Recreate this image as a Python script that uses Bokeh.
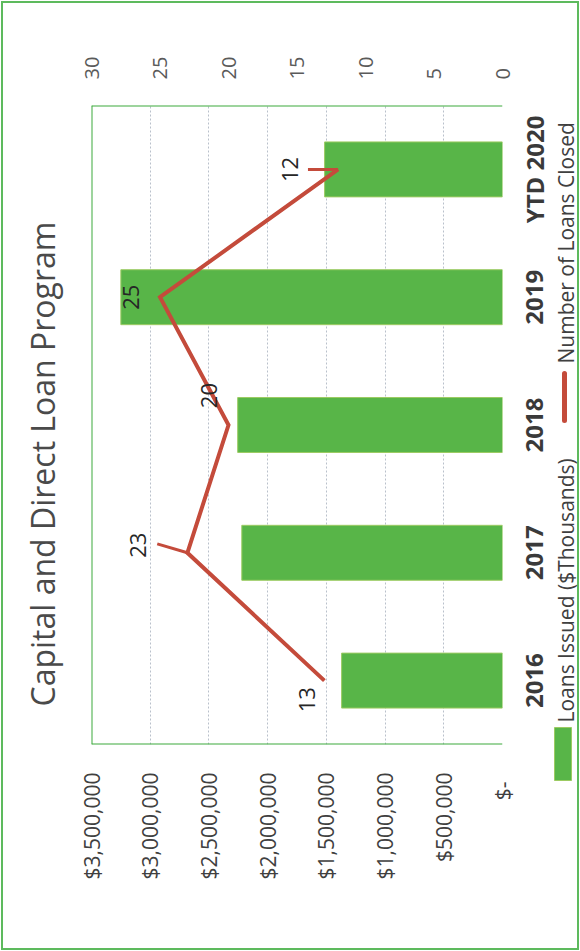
import math
from bokeh.plotting import figure
from bokeh.layouts import row, column
from bokeh.models import Range1d, FactorRange, LinearAxis, FixedTicker, Span
from bokeh.core.properties import value
from bokeh.embed import file_html
from bokeh.resources import INLINE

# ---------------- data ----------------
categories = ["2016", "2017", "2018", "2019", "YTD 2020"]
loans_issued = [1370000, 2220000, 2255000, 3250000, 1515000]   # $ (bars)
loans_closed = [13, 23, 20, 25, 12]                             # count (line)
dollar_ticks = [0, 500000, 1000000, 1500000, 2000000, 2500000, 3000000, 3500000]
dollar_labels = ["$-", "$500,000", "$1,000,000", "$1,500,000", "$2,000,000",
                 "$2,500,000", "$3,000,000", "$3,500,000"]
count_ticks = [0, 5, 10, 15, 20, 25, 30]
title_text = "Capital and Direct Loan Program"
series_names = ["Loans Issued ($Thousands)", "Number of Loans Closed"]

# ---------------- label placement (style) ----------------
label_dx = [1.3, 3.6, 1.4, 2.1, 3.5]
label_dy = [-0.15, 0.06, 0.23, 0.0, 0.0]
leader_idx = [1, 4]
leader_dx = [2.2, 2.2]
leader_dy = [0.07, 0.0]

FONT = "Open Sans"
GREEN_BAR = "#58B548"
GREEN_EDGE = "#9CCB62"
GREEN_BORDER = "#3DAA3D"
RED = "#C44B3B"
GRID = "#B9C0CB"
H = 951
TOP, BOTTOM = 105, 207          # space above / below the plot area


def blank(width, **kw):
    f = figure(width=width, height=H, output_backend="svg", toolbar_location=None,
               x_axis_location=None, y_axis_location=None, **kw)
    f.outline_line_color = None
    f.grid.visible = False
    f.background_fill_color = None
    f.border_fill_color = None
    return f


# ---------------- main chart ----------------
p = figure(width=441, height=H,
           x_range=Range1d(3500000, 0),
           y_range=FactorRange(factors=categories, range_padding=0),
           y_axis_location=None,
           output_backend="svg", toolbar_location=None,
           min_border_left=16, min_border_right=14,
           min_border_top=TOP, min_border_bottom=BOTTOM)
p.extra_x_ranges = {"count": Range1d(30, 0)}
p.outline_line_color = None
p.background_fill_color = None
p.border_fill_color = None

xa = p.xaxis[0]
xa.ticker = FixedTicker(ticks=dollar_ticks)
overrides = {t: l for t, l in zip(dollar_ticks, dollar_labels)}
overrides[0] = dollar_labels[0] + "\u00a0\u2009"
xa.major_label_overrides = overrides
xa.major_label_orientation = math.pi / 2
xa.axis_line_color = None
xa.major_tick_line_color = None
xa.minor_tick_line_color = None
xa.major_tick_in = 0
xa.major_tick_out = 0
xa.major_label_standoff = 28
xa.major_label_text_font = FONT
xa.major_label_text_font_size = "21px"
xa.major_label_text_color = "#404040"

ca = LinearAxis(x_range_name="count", ticker=FixedTicker(ticks=count_ticks))
ca.major_label_orientation = math.pi / 2
ca.axis_line_color = None
ca.major_tick_line_color = None
ca.minor_tick_line_color = None
ca.major_tick_in = 0
ca.major_tick_out = 0
ca.major_label_standoff = 26
ca.major_label_text_font = FONT
ca.major_label_text_font_size = "20px"
ca.major_label_text_color = "#5A5A5A"
p.add_layout(ca, "above")

p.xgrid.ticker = FixedTicker(ticks=dollar_ticks)
p.xgrid.grid_line_color = GRID
p.xgrid.grid_line_dash = "2 2"
p.xgrid.grid_line_width = 1
p.ygrid.visible = False

p.add_layout(Span(location=3500000, dimension="height", line_color=GREEN_BORDER, line_width=2))
p.add_layout(Span(location=len(categories), dimension="width", line_color=GREEN_BORDER, line_width=2))
p.add_layout(Span(location=0, dimension="width", line_color=GREEN_BORDER, line_width=2))

p.hbar(y=categories, left=0, right=loans_issued, height=0.43,
       fill_color=GREEN_BAR, line_color=GREEN_EDGE, line_width=1)

p.line(x=loans_closed, y=categories, x_range_name="count",
       line_color=RED, line_width=4, line_join="miter")

p.segment(x0=[loans_closed[i] for i in leader_idx],
          y0=[categories[i] for i in leader_idx],
          x1=[loans_closed[i] + d for i, d in zip(leader_idx, leader_dx)],
          y1=[(categories[i], dy) for i, dy in zip(leader_idx, leader_dy)],
          x_range_name="count", line_color=RED, line_width=3)

p.text(x=[c + d for c, d in zip(loans_closed, label_dx)],
       y=[(c, d) for c, d in zip(categories, label_dy)],
       text=[str(c) for c in loans_closed], x_range_name="count",
       angle=math.pi / 2, text_align="center", text_baseline="middle",
       text_font=value(FONT), text_font_size="22px", text_color="#262626")

# ---------------- category labels (share the category scale) ----------------
c = blank(35, x_range=Range1d(516, 551), y_range=p.y_range,
          min_border_left=0, min_border_right=0,
          min_border_top=TOP, min_border_bottom=BOTTOM)
c.text(x=[534] * len(categories), y=categories, text=categories,
       angle=math.pi / 2, text_align="center", text_baseline="middle",
       text_font=value(FONT), text_font_size="24px", text_font_style="bold",
       text_color="#3A3A3A")

# ---------------- title ----------------
t = blank(75, x_range=Range1d(0, 75), y_range=Range1d(H - BOTTOM, TOP),
          min_border_left=0, min_border_right=0,
          min_border_top=TOP, min_border_bottom=BOTTOM)
t.text(x=[42], y=[706], text=[title_text], angle=math.pi / 2,
       text_align="left", text_baseline="middle",
       text_font=value(FONT), text_font_size="32px", text_color="#4A4A4A")

# ---------------- legend ----------------
lg = blank(29, x_range=Range1d(551, 580), y_range=Range1d(H, 0), min_border=0)
lg.quad(left=[554], right=[571], top=[727], bottom=[780],
        fill_color=GREEN_BAR, line_color=GREEN_EDGE, line_width=1)
lg.text(x=[565.4], y=[722], text=[series_names[0]], angle=math.pi / 2,
        text_align="left", text_baseline="middle",
        text_font=value(FONT), text_font_size="21px", text_color="#404040")
lg.segment(x0=[564], y0=[373], x1=[564], y1=[420], line_color=RED,
           line_width=5, line_cap="round")
lg.text(x=[565.4], y=[363], text=[series_names[1]], angle=math.pi / 2,
        text_align="left", text_baseline="middle",
        text_font=value(FONT), text_font_size="21px", text_color="#404040")

layout = row(t, p, c, column(lg), spacing=0)
layout.styles = {"outline": "2px solid #5DBA5D", "outline-offset": "-3px"}

open("out.html", "w").write(file_html(layout, INLINE))
